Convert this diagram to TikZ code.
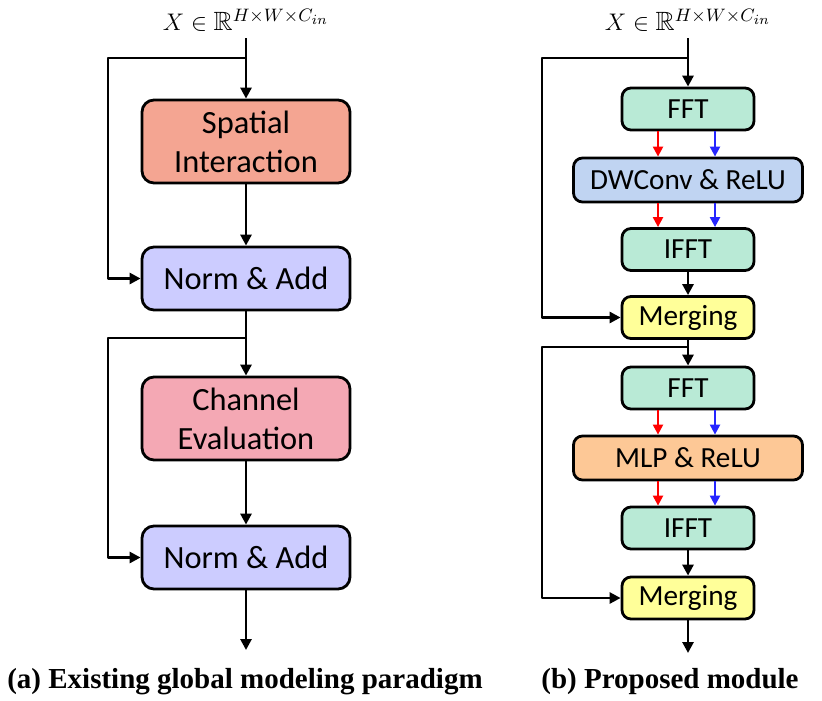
\documentclass[tikz,border=0pt]{standalone}
\usepackage{fontspec}
\usepackage{amssymb}
\setsansfont{Carlito}
\newfontfamily\capfont{Liberation Serif}
\usetikzlibrary{arrows.meta}
\definecolor{spatialc}{HTML}{F4A592}
\definecolor{normc}{HTML}{CCCCFF}
\definecolor{channelc}{HTML}{F4A8B4}
\definecolor{fftc}{HTML}{B9EAD6}
\definecolor{convc}{HTML}{C0D4F2}
\definecolor{mlpc}{HTML}{FDC896}
\definecolor{mergec}{HTML}{FFFF99}
\begin{document}
\begin{tikzpicture}[x=0.5pt,y=-0.5pt,line join=round,>={Triangle[length=5.5pt,width=5.5pt]},
	arr/.style={->,line width=1.4pt},
	redarr/.style={->,line width=1.1pt,red,>={Triangle[length=5pt,width=5pt]}},
	bluearr/.style={->,line width=1.1pt,blue!85!white,>={Triangle[length=5pt,width=5pt]}},
	box/.style={draw,line width=1.4pt,rounded corners=6pt,inner sep=0pt,align=center,minimum width=104pt,font=\sffamily\fontsize{16.2}{19.5}\selectfont},
	sbox/.style={draw,line width=1.4pt,rounded corners=4.5pt,inner sep=0pt,minimum width=66pt,minimum height=21pt,font=\sffamily\fontsize{14.6}{16}\selectfont},
	wbox/.style={sbox,minimum width=114.5pt,minimum height=22pt},
	caption/.style={anchor=base,font=\capfont\bfseries\fontsize{14.5}{16}\selectfont}]
	\useasboundingbox (0,0) rectangle (822,700);
	% (a) existing paradigm
	\node (xa) at (246,20) {\fontsize{13.2}{16}\selectfont$X\in\mathbb{R}^{H\times W\times C_{in}}$};
	\node[box,fill=spatialc,minimum height=41.5pt] (si) at (246,141.5) {Spatial\\Interaction};
	\node[box,fill=normc,minimum height=31.5pt] (na1) at (246,278.5) {Norm \& Add};
	\node[box,fill=channelc,minimum height=41.5pt] (ce) at (246,418.5) {Channel\\Evaluation};
	\node[box,fill=normc,minimum height=31.5pt] (na2) at (246,557.5) {Norm \& Add};
	\coordinate (sa1) at (246,58); \coordinate (sa2) at (246,338); \coordinate (outa) at (246,650);
	\draw[arr] (xa) -- (si); \draw[arr] (si) -- (na1); \draw[arr] (na1) -- (ce); \draw[arr] (ce) -- (na2); \draw[arr] (na2) -- (outa);
	\draw[arr] (sa1) -- (108,58) |- (na1.west);
	\draw[arr] (sa2) -- (108,338) |- (na2.west);
	\node[caption] (capa) at (245,688) {(a) Existing global modeling paradigm};
	% (b) proposed module
	\node (xb) at (688,20) {\fontsize{13.2}{16}\selectfont$X\in\mathbb{R}^{H\times W\times C_{in}}$};
	\node[sbox,fill=fftc] (fft1) at (688,109) {FFT};
	\node[wbox,fill=convc] (dw) at (688,180) {DWConv \& ReLU};
	\node[sbox,fill=fftc] (ifft1) at (688,249.5) {IFFT};
	\node[sbox,fill=mergec] (mg1) at (688,317.5) {Merging};
	\node[sbox,fill=fftc] (fft2) at (688,388) {FFT};
	\node[wbox,fill=mlpc] (mlp) at (688,458) {MLP \& ReLU};
	\node[sbox,fill=fftc] (ifft2) at (688,528) {IFFT};
	\node[sbox,fill=mergec] (mg2) at (688,598) {Merging};
	\coordinate (sb1) at (688,58); \coordinate (sb2) at (688,347); \coordinate (outb) at (688,653);
	\draw[arr] (xb) -- (fft1); \draw[arr] (ifft1) -- (mg1); \draw[arr] (mg1) -- (fft2); \draw[arr] (ifft2) -- (mg2); \draw[arr] (mg2) -- (outb);
	\foreach \u/\v in {fft1/dw,dw/ifft1,fft2/mlp,mlp/ifft2}{
		\draw[redarr] ([xshift=-15pt]\u.south) -- ([xshift=-15pt]\v.north);
		\draw[bluearr] ([xshift=13.5pt]\u.south) -- ([xshift=13.5pt]\v.north);
	}
	\draw[arr] (sb1) -- (542,58) |- (mg1.west);
	\draw[arr] (sb2) -- (542,347) |- (mg2.west);
	\node[caption] (capb) at (670,688) {(b) Proposed module};
\end{tikzpicture}
\end{document}
